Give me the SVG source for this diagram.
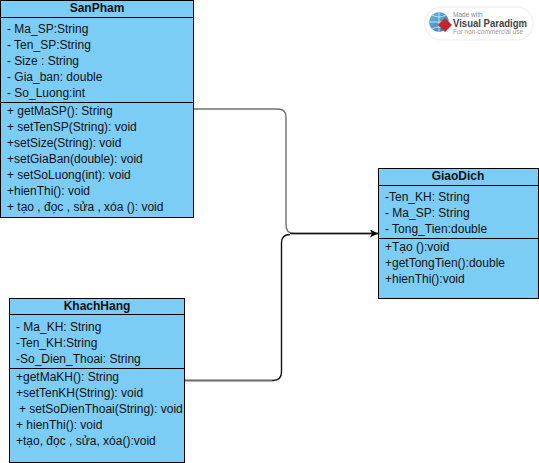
<svg xmlns="http://www.w3.org/2000/svg" width="539" height="463" viewBox="0 0 539 463">
<style>
text{font-family:"Liberation Sans",Arial,sans-serif;font-size:12px;fill:#111}
.t{font-weight:bold;text-anchor:middle}
.b{fill:#7ccdf6;stroke:#000;stroke-width:1}
.d{stroke:#000;stroke-width:1;fill:none}
.c{fill:none;stroke-width:1.4}
</style>
<defs>
<marker id="a" markerUnits="userSpaceOnUse" markerWidth="10" markerHeight="10" refX="8" refY="4" orient="auto"><path d="M0 0L8 4L0 8L2 4Z" fill="#000"/></marker>
<linearGradient id="g1" x1="0" y1="0" x2="1" y2="1"><stop offset="0" stop-color="#6fb7dd"/><stop offset="1" stop-color="#2f7fb0"/></linearGradient>
</defs>
<rect width="539" height="463" fill="#fff"/>
<g id="connectors">
<path class="c" stroke="#707070" d="M193 109H278Q286 109 286 117V225Q286 233.500 294 233.500H378"/>
<path class="c" stroke="#111" d="M290 233.500H378" marker-end="url(#a)"/>
<path class="c" stroke="#111" d="M184 380.500H273Q281.500 380.500 281.500 372V243Q281.500 234.500 290 234.500"/>
<path class="c" stroke="#707070" d="M184 380.500H272"/>
</g>
<g id="SanPham">
<rect class="b" x="0.500" y="0.500" width="193" height="217"/>
<path class="d" d="M0 17.500H193M0 102.500H193"/>
<text class="t" x="97" y="12">SanPham</text>
<text x="7" y="33">- Ma_SP:String</text>
<text x="7" y="49">- Ten_SP:String</text>
<text x="7" y="65">- Size : String</text>
<text x="7" y="81">- Gia_ban: double</text>
<text x="7" y="97">- So_Luong:int</text>
<text x="7" y="115">+ getMaSP(): String</text>
<text x="7" y="131">+ setTenSP(String): void</text>
<text x="7" y="147">+setSize(String): void</text>
<text x="7" y="163">+setGiaBan(double): void</text>
<text x="7" y="179">+ setSoLuong(int): void</text>
<text x="7" y="195">+hienThi(): void</text>
<text x="7" y="211">+ tạo , đọc , sửa , xóa (): void</text>
</g>
<g id="KhachHang">
<rect class="b" x="9.500" y="298.500" width="175" height="164"/>
<path class="d" d="M9 314.500H184M9 368.500H184"/>
<text class="t" x="97" y="310">KhachHang</text>
<text x="16" y="331">- Ma_KH: String</text>
<text x="16" y="347">-Ten_KH:String</text>
<text x="16" y="363">-So_Dien_Thoai: String</text>
<text x="16" y="381">+getMaKH(): String</text>
<text x="16" y="397">+setTenKH(String): void</text>
<text x="19" y="413">+ setSoDienThoai(String): void</text>
<text x="16" y="429">+ hienThi(): void</text>
<text x="16" y="445">+tạo, đọc , sửa, xóa():void</text>
</g>
<g id="GiaoDich">
<rect class="b" x="378.500" y="168.500" width="160" height="130"/>
<path class="d" d="M378 185.500H538M378 238.500H538"/>
<text class="t" x="458" y="180">GiaoDich</text>
<text x="385" y="201">-Ten_KH: String</text>
<text x="385" y="217">- Ma_SP: String</text>
<text x="385" y="233">- Tong_Tien:double</text>
<text x="385" y="251">+Tạo ():void</text>
<text x="385" y="267">+getTongTien():double</text>
<text x="385" y="283">+hienThi():void</text>
</g>
<g id="watermark">
<rect x="425" y="7" width="108" height="33" rx="16.500" fill="#fff" stroke="#f2f2f2" stroke-width="1.500"/>
<circle cx="439" cy="22" r="10" fill="url(#g1)"/>
<path d="M429 22H449M439 12V32M432 15Q439 19 446 15M432 29Q439 25 446 29" fill="none" stroke="#d5ecf7" stroke-width="0.800"/>
<path d="M445 18L452 25L445 32L438 25Z" fill="#c8242b"/>
<text x="453" y="17" style="font-size:6.500px;fill:#8a8a8a">Made with</text>
<text x="453" y="27" textLength="74" lengthAdjust="spacingAndGlyphs" style="font-size:10px;font-weight:bold;fill:#444">Visual Paradigm</text>
<text x="453" y="34" style="font-size:6.500px;fill:#9a9a9a">For non-commercial use</text>
</g>
</svg>
